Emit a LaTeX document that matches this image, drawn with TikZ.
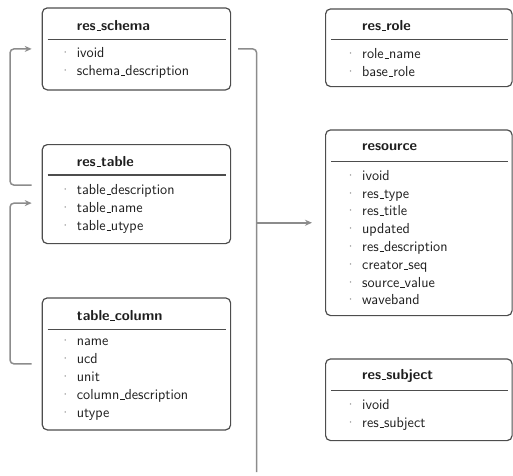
\documentclass[tikz,border=0pt]{standalone}
\usepackage{tikz}
\usetikzlibrary{arrows.meta}
\definecolor{framegray}{RGB}{77,77,77}
\definecolor{linkgray}{RGB}{140,140,140}
\definecolor{dotgray}{RGB}{130,130,130}
\definecolor{inkgray}{RGB}{30,30,30}
\newcommand{\us}{\leavevmode\kern.06em\vbox{\hrule width.3em height.5pt}}

\begin{document}
\begin{tikzpicture}[x=1pt, y=-1pt,
    tbl/.style={draw=framegray, line width=1.2pt, rounded corners=5pt, anchor=north west, inner sep=0pt},
    ttl/.style={anchor=west, inner sep=0pt, text=inkgray, font=\sffamily\bfseries\fontsize{14.5}{18}\selectfont},
    field/.style={anchor=base west, inner sep=0pt, text=inkgray, font=\sffamily\fontsize{14.5}{18}\selectfont,
        execute at begin node={\llap{\textcolor{dotgray}{\textperiodcentered}\hspace{6pt}}}},
    sep/.style={draw=framegray, line width=1.2pt},
    link/.style={draw=linkgray, line width=1.5pt, rounded corners=4pt},
    arr/.style={-{Stealth[length=7pt,width=6pt]}}]
    \useasboundingbox (0,0) rectangle (513,475);

    % left column
    \node[tbl, minimum width=188.3pt, minimum height=82pt] (schema) at (41.7,7.3) {};
    \node[ttl] (schematitle) at ([xshift=35pt,yshift=-18pt]schema.north west) {res\us schema};
    \draw[sep] ([xshift=6pt,yshift=-32pt]schema.north west) -- ([xshift=-5pt,yshift=-32pt]schema.north east);
    \foreach \f [count=\i from 0] in {ivoid, schema\us description}
        \node[field] at ([xshift=35pt,yshift=-50-18*\i]schema.north west) {\f};

    \node[tbl, minimum width=188.3pt, minimum height=99pt] (table) at (41.7,144) {};
    \node[ttl] (tabletitle) at ([xshift=35pt,yshift=-18pt]table.north west) {res\us table};
    \draw[sep] ([xshift=6pt,yshift=-31pt]table.north west) -- ([xshift=-5pt,yshift=-31pt]table.north east);
    \foreach \f [count=\i from 0] in {table\us description, table\us name, table\us utype}
        \node[field] at ([xshift=35pt,yshift=-50-18*\i]table.north west) {\f};

    \node[tbl, minimum width=188.3pt, minimum height=132pt] (column) at (41.7,297.3) {};
    \node[ttl] (columntitle) at ([xshift=35pt,yshift=-18pt]column.north west) {table\us column};
    \draw[sep] ([xshift=6pt,yshift=-32pt]column.north west) -- ([xshift=-5pt,yshift=-32pt]column.north east);
    \foreach \f [count=\i from 0] in {name, ucd, unit, column\us description, utype}
        \node[field] at ([xshift=35pt,yshift=-48-18*\i]column.north west) {\f};

    % right column
    \node[tbl, minimum width=186.5pt, minimum height=77.7pt] (role) at (325,8.3) {};
    \node[ttl] (roletitle) at ([xshift=37pt,yshift=-17pt]role.north west) {res\us role};
    \draw[sep] ([xshift=6pt,yshift=-31pt]role.north west) -- ([xshift=-5pt,yshift=-31pt]role.north east);
    \foreach \f [count=\i from 0] in {role\us name, base\us role}
        \node[field] at ([xshift=37pt,yshift=-50-18*\i]role.north west) {\f};

    \node[tbl, minimum width=186.5pt, minimum height=185.7pt] (resource) at (325,129.3) {};
    \node[ttl] (resourcetitle) at ([xshift=37pt,yshift=-18pt]resource.north west) {resource};
    \draw[sep] ([xshift=6pt,yshift=-32pt]resource.north west) -- ([xshift=-5pt,yshift=-32pt]resource.north east);
    \foreach \f [count=\i from 0] in {ivoid, res\us type, res\us title, updated, res\us description,
                                      creator\us seq, source\us value, waveband}
        \node[field] at ([xshift=37pt,yshift=-51-17.8*\i]resource.north west) {\f};

    \node[tbl, minimum width=186.5pt, minimum height=81.7pt] (subject) at (325,358.3) {};
    \node[ttl] (subjecttitle) at ([xshift=37pt,yshift=-18pt]subject.north west) {res\us subject};
    \draw[sep] ([xshift=6pt,yshift=-32pt]subject.north west) -- ([xshift=-5pt,yshift=-32pt]subject.north east);
    \foreach \f [count=\i from 0] in {ivoid, res\us subject}
        \node[field] at ([xshift=37pt,yshift=-51-18*\i]subject.north west) {\f};

    % links
    \draw[link, arr, shorten <=10pt, shorten >=10pt] ([yshift=9pt]table.west) -- ++(-31.7,0) |- (schema.west);
    \draw[link, arr, shorten <=10pt, shorten >=10pt] (column.west) -- ++(-31.7,0) |- ([yshift=-9pt]table.west);
    \coordinate (busend) at (256.7,472);
    \draw[link, shorten <=7pt] (schema.east) -| (busend);
    \draw[link, arr, shorten >=13pt] (busend |- resource.west) -- (resource.west);
\end{tikzpicture}
\end{document}
